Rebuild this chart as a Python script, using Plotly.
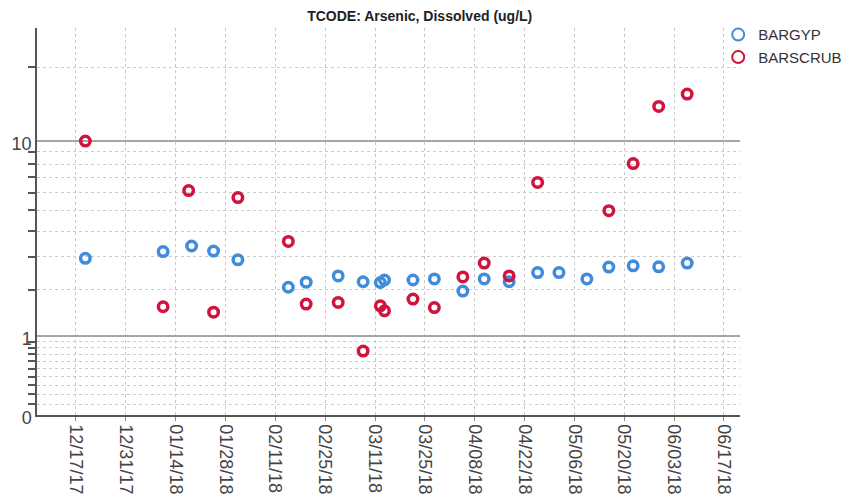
import math
import plotly.graph_objects as go

# ---- data (values in ug/L); sample times read from the x positions ----
gyp_dates = ["2017-12-19 16:00", "2018-01-10 12:00", "2018-01-18 12:00", "2018-01-24 16:00",
             "2018-01-31 12:00", "2018-02-14 16:00", "2018-02-19 16:00", "2018-02-28 16:00",
             "2018-03-07 16:00", "2018-03-12 12:00", "2018-03-13 16:00", "2018-03-21 16:00",
             "2018-03-27 16:00", "2018-04-04 16:00", "2018-04-10 16:00", "2018-04-17 16:00",
             "2018-04-25 16:00", "2018-05-01 16:00", "2018-05-09 12:00", "2018-05-15 16:00",
             "2018-05-22 12:00", "2018-05-29 16:00", "2018-06-06 16:00"]
gyp_values = [2.94, 3.18, 3.39, 3.2, 2.89,
              2.06, 2.2, 2.38, 2.21, 2.19,
              2.26, 2.26, 2.29, 1.96, 2.29,
              2.21, 2.48, 2.48, 2.29, 2.65,
              2.69, 2.66, 2.78]

scrub_dates = ["2017-12-19 16:00", "2018-01-10 12:00", "2018-01-17 16:00", "2018-01-24 16:00",
               "2018-01-31 12:00", "2018-02-14 16:00", "2018-02-19 16:00", "2018-02-28 16:00",
               "2018-03-07 16:00", "2018-03-12 12:00", "2018-03-13 16:00", "2018-03-21 16:00",
               "2018-03-27 16:00", "2018-04-04 16:00", "2018-04-10 16:00", "2018-04-17 16:00",
               "2018-04-25 16:00", "2018-05-15 16:00", "2018-05-22 12:00", "2018-05-29 16:00",
               "2018-06-06 16:00"]
scrub_values = [10.0, 1.58, 6.13, 1.46, 5.71,
                3.57, 1.64, 1.68, 0.75, 1.6,
                1.49, 1.76, 1.56, 2.35, 2.78,
                2.38, 6.66, 4.98, 8.03, 13.9,
                15.6]

series_names = ["BARGYP", "BARSCRUB"]
y_tick_values = [0, 1, 10]
y_tick_labels = ["0", "1", "10"]
y_minor_values = [0.1, 0.2, 0.3, 0.4, 0.5, 0.6, 0.7, 0.8, 0.9,
                  2, 3, 4, 5, 6, 7, 8, 9, 20]
title_text = "TCODE: Arsenic, Dissolved (ug/L)"

# safe-log axis: log scale of (value + 1)
def shift(vals):
    return [v + 1 for v in vals]

BLUE = "#3F8BDC"
RED = "#D0143E"
FONT = "Liberation Sans, Arial, sans-serif"

fig = go.Figure()
fig.add_trace(go.Scatter(
    x=gyp_dates, y=shift(gyp_values), mode="markers", name=series_names[0],
    marker=dict(symbol="circle-open", size=9.5, color=BLUE, line=dict(width=3.5, color=BLUE)),
))
fig.add_trace(go.Scatter(
    x=scrub_dates, y=shift(scrub_values), mode="markers", name=series_names[1],
    marker=dict(symbol="circle-open", size=9.5, color=RED, line=dict(width=3.5, color=RED)),
))

# the page body has an 8px margin, so the figure is sized to fit the window
fig.update_layout(
    width=842, height=486,
    margin=dict(l=29, r=110, t=20, b=79, autoexpand=False),
    paper_bgcolor="white", plot_bgcolor="white",
    font=dict(family=FONT, color="#333333"),
    title=dict(text="<b>" + title_text + "</b>", x=0.489, xanchor="center",
               y=0.983, yanchor="middle", font=dict(size=14, color="#222222")),
    legend=dict(x=0.969, xanchor="left", y=1.025, yanchor="top",
                font=dict(size=15, color="#333333"), bgcolor="rgba(0,0,0,0)",
                itemsizing="constant", tracegroupgap=0),
    showlegend=True,
)

fig.update_xaxes(
    type="date", automargin=False,
    range=["2017-12-06 02:00", "2018-06-21 12:00"],
    tick0="2017-12-17", dtick=14 * 86400000,
    tickformat="%m/%d/%y", tickangle=90,
    tickfont=dict(size=18, color="#444444"),
    showgrid=True, gridcolor="#c8c8c8", griddash="dot", gridwidth=1,
    showline=True, linecolor="#555555", linewidth=1.5,
    ticks="outside", ticklen=4, tickcolor="#888888",
    zeroline=False,
)

fig.update_yaxes(
    type="log", automargin=False,
    range=[0, math.log10(29.6)],
    tickmode="array", tickvals=shift(y_tick_values), ticktext=y_tick_labels,
    tickfont=dict(size=18, color="#444444"),
    ticklabelshift=3,
    showgrid=True, gridcolor="#a6a6a6", gridwidth=1.5,
    showline=True, linecolor="#555555", linewidth=1.5,
    ticks="", zeroline=False,
    minor=dict(tickmode="array", tickvals=shift(y_minor_values),
               showgrid=True, gridcolor="#cccccc", griddash="dot", gridwidth=1,
               ticks="outside", ticklen=7, tickcolor="#555555", tickwidth=1.5),
)

fig.write_html("out.html")
